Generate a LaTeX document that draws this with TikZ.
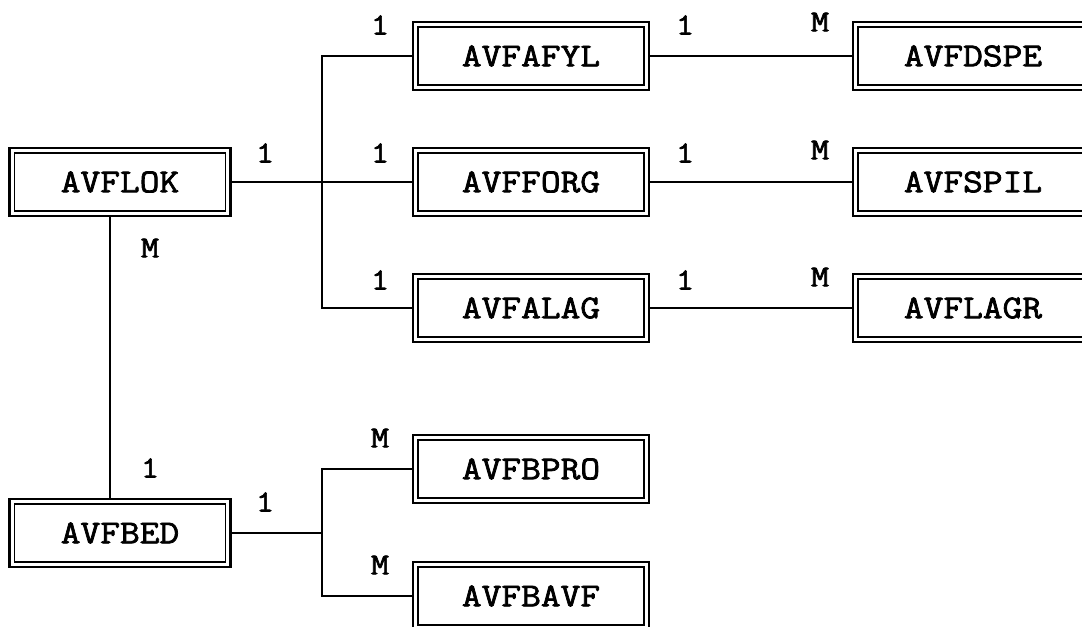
\documentclass[tikz,border=0pt]{standalone}
\usepackage{fontspec}
\newfontfamily\erfont[FakeBold=2.2, FakeStretch=1.15]{Latin Modern Mono}
\begin{document}
\begin{tikzpicture}[x=0.75pt, y=-0.75pt,
    entity/.style={draw, line width=1.1pt, minimum height=43.5pt, inner sep=0pt,
        outer sep=3.75pt, font=\erfont\fontsize{25}{28}\selectfont},
    leftbox/.style={entity, minimum width=158pt},
    midbox/.style={entity, minimum width=169.5pt},
    rightbox/.style={entity, minimum width=172.5pt},
    card/.style={font=\erfont\fontsize{23}{26}\selectfont},
    link/.style={line width=1.4pt}]
    \useasboundingbox (0, 0) rectangle (1082, 627);

    % entities
    \node[leftbox] (flok) at (120, 182) {AVFLOK};
    \node[leftbox] (bed) at (120, 533) {AVFBED};
    \node[midbox] (afyl) at (531, 56) {AVFAFYL};
    \node[midbox] (forg) at (531, 182) {AVFFORG};
    \node[midbox] (alag) at (531, 308) {AVFALAG};
    \node[midbox] (bpro) at (531, 469) {AVFBPRO};
    \node[midbox] (bavf) at (531, 596) {AVFBAVF};
    \node[rightbox] (dspe) at (973, 56) {AVFDSPE};
    \node[rightbox] (spil) at (973, 182) {AVFSPIL};
    \node[rightbox] (lagr) at (973, 308) {AVFLAGR};

    % outer frame of each entity
    \foreach \n in {flok, bed, afyl, forg, alag, bpro, bavf, dspe, spil, lagr}
        \draw[line width=1.8pt] (\n.south west) rectangle (\n.north east);

    % forks
    \coordinate (fork) at (322, 182);
    \coordinate (bfork) at (322, 533);

    % relations
    \draw[link] (flok.east) -- (forg.west);
    \draw[link] (afyl.west) -| (fork) |- (alag.west);
    \draw[link] (afyl.east) -- (dspe.west);
    \draw[link] (forg.east) -- (spil.west);
    \draw[link] (alag.east) -- (lagr.west);
    \draw[link] ([xshift=-7.5pt]flok.south) -- ([xshift=-7.5pt]bed.north);
    \draw[link] (bed.east) -- (bfork);
    \draw[link] (bpro.west) -| (bfork) |- (bavf.west);

    % cardinalities
    \node[card] (c1) at (265, 153) {1};
    \node[card] (c2) at (380, 25) {1};
    \node[card] (c3) at (380, 153) {1};
    \node[card] (c4) at (380, 280) {1};
    \node[card] (c5) at (685, 25) {1};
    \node[card] (c6) at (685, 153) {1};
    \node[card] (c7) at (685, 280) {1};
    \node[card] (c8) at (820, 22) {M};
    \node[card] (c9) at (820, 150) {M};
    \node[card] (c10) at (820, 277) {M};
    \node[card] (c11) at (150, 248) {M};
    \node[card] (c12) at (150, 468) {1};
    \node[card] (c13) at (265, 502) {1};
    \node[card] (c14) at (380, 438) {M};
    \node[card] (c15) at (380, 565) {M};
\end{tikzpicture}
\end{document}
